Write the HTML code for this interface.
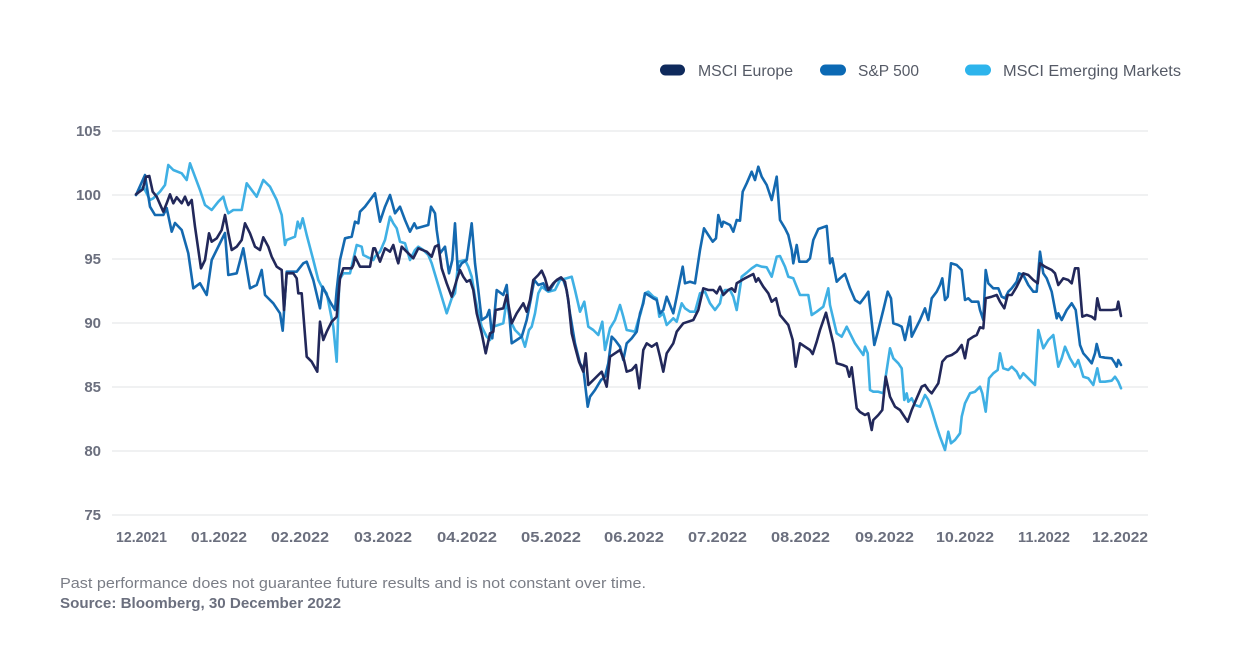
<!DOCTYPE html>
<html><head><meta charset="utf-8"><style>
html,body{margin:0;padding:0;background:#fff;}
svg{display:block;}
</style></head><body>
<svg width="1240" height="667" viewBox="0 0 1240 667" xmlns="http://www.w3.org/2000/svg" font-family="Liberation Sans, Arial, sans-serif">
<rect width="1240" height="667" fill="#fff"/>
<!-- legend -->
<rect x="660" y="64.5" width="25" height="11" rx="5.5" fill="#0f2a5c"/>
<text x="698" y="76" font-size="16" fill="#555a66" textLength="95" lengthAdjust="spacingAndGlyphs">MSCI Europe</text>
<rect x="820" y="64.5" width="26" height="11" rx="5.5" fill="#0b69b4"/>
<text x="858" y="76" font-size="16" fill="#555a66" textLength="61" lengthAdjust="spacingAndGlyphs">S&amp;P 500</text>
<rect x="965" y="64.5" width="26" height="11" rx="5.5" fill="#2db4ec"/>
<text x="1003" y="76" font-size="16" fill="#555a66" textLength="178" lengthAdjust="spacingAndGlyphs">MSCI Emerging Markets</text>
<!-- grid -->
<g stroke="#e2e3e6" stroke-width="1">
<line x1="112" y1="131" x2="1148" y2="131"/>
<line x1="112" y1="195" x2="1148" y2="195"/>
<line x1="112" y1="259" x2="1148" y2="259"/>
<line x1="112" y1="323" x2="1148" y2="323"/>
<line x1="112" y1="387" x2="1148" y2="387"/>
<line x1="112" y1="451" x2="1148" y2="451"/>
<line x1="112" y1="515" x2="1148" y2="515"/>
</g>
<!-- y labels -->
<g font-size="15" font-weight="bold" fill="#6b6f7e" text-anchor="end">
<text x="101" y="136">105</text>
<text x="101" y="200">100</text>
<text x="101" y="264">95</text>
<text x="101" y="328">90</text>
<text x="101" y="392">85</text>
<text x="101" y="456">80</text>
<text x="101" y="520">75</text>
</g>
<!-- x labels -->
<g font-size="15" font-weight="bold" fill="#6b6f7e" text-anchor="middle">
<text x="141.5" y="542" textLength="51" lengthAdjust="spacingAndGlyphs">12.2021</text>
<text x="219" y="542" textLength="56" lengthAdjust="spacingAndGlyphs">01.2022</text>
<text x="300" y="542" textLength="58" lengthAdjust="spacingAndGlyphs">02.2022</text>
<text x="383" y="542" textLength="58" lengthAdjust="spacingAndGlyphs">03.2022</text>
<text x="467" y="542" textLength="60" lengthAdjust="spacingAndGlyphs">04.2022</text>
<text x="551" y="542" textLength="60" lengthAdjust="spacingAndGlyphs">05.2022</text>
<text x="634" y="542" textLength="60" lengthAdjust="spacingAndGlyphs">06.2022</text>
<text x="717.5" y="542" textLength="59" lengthAdjust="spacingAndGlyphs">07.2022</text>
<text x="800.5" y="542" textLength="59" lengthAdjust="spacingAndGlyphs">08.2022</text>
<text x="884.5" y="542" textLength="59" lengthAdjust="spacingAndGlyphs">09.2022</text>
<text x="965" y="542" textLength="58" lengthAdjust="spacingAndGlyphs">10.2022</text>
<text x="1044" y="542" textLength="52" lengthAdjust="spacingAndGlyphs">11.2022</text>
<text x="1120" y="542" textLength="56" lengthAdjust="spacingAndGlyphs">12.2022</text>
</g>
<!-- footnotes -->
<text x="60" y="588" font-size="15" fill="#7a7d86" textLength="586" lengthAdjust="spacingAndGlyphs">Past performance does not guarantee future results and is not constant over time.</text>
<text x="60" y="608" font-size="15" font-weight="bold" fill="#6b6f7e" textLength="281" lengthAdjust="spacingAndGlyphs">Source: Bloomberg, 30 December 2022</text>
<!-- series -->
<g fill="none" stroke-width="2.6" stroke-linejoin="round" stroke-linecap="round">
<polyline stroke="#3fb0e4" points="136,195 143.3,186.7 150,200 153.3,198.3 160,191.7 165,185 168.3,165 173.3,170 181.7,173.3 186.7,180 190,163.3 195,176.7 200,190 205,205 211.7,210 218.3,201.7 223.3,196.7 226,206.7 228.3,213.3 233.3,210 241.7,210 246.7,183.3 256.7,196.7 263.3,180 270,186.7 276.7,200 281.7,215 285,245 286.7,240 295,236.7 297.7,221.7 300,228.3 302.7,218.3 306.7,235 313.3,260 318.3,280 321.7,286.7 326.7,293.3 333.3,326.7 336.7,361.7 339.3,280 343.3,273.3 350,273.3 356.7,245 361.7,246.7 363.3,255 373.3,260 375,256.7 380,251.7 385,240 390,216.7 393.3,223.3 396.7,228.3 400,241.7 405,243.3 410,260 415,250 418.3,246.7 423.3,250 428.3,255 431.7,263.3 436.7,280 441.7,296.7 446.7,313.3 451.7,298.3 455,293.3 458.3,261.7 465,260 468.3,266.7 471.7,276.7 475,296.7 478.3,313.3 481.7,326.7 486.7,336.7 490,340 493.3,326.7 498.3,325 503.3,323.3 506.7,300 510,320 515,330 521.7,336.7 525,346.7 529,330 531.7,326.7 535,313.3 538.3,293.3 541.7,286.7 548.3,291.7 555,290 560,280 566.7,278.3 571.7,276.7 575,290 580,311.7 584.3,301.7 588.3,326.7 593.3,330 598.3,335 602.3,321.7 605,350 610,328.3 615,320 620,305 623.3,316.7 626.7,330 635,331.7 638.3,320 640.7,313.3 645,293.3 648.3,291.7 653.3,296.7 656.7,298.3 659.3,316.7 663.3,313.3 666.7,325 673.3,318.3 676.7,321.7 681.7,303.3 685,308.3 690,311.7 695,311.7 700,293.3 705,291.7 710,303.3 715,310 720,303.3 721.7,295 725,290 730,290 733.3,296.7 736.7,310 741.7,276.7 746.7,272.7 751.7,268.3 756.7,265 761.7,266.7 766.7,267.3 771.7,276.7 776.7,256.7 780,256 785,266.7 788.3,276.7 793.3,278.3 800,295 808.3,295 811.7,315 816.7,311.7 823.3,306.7 828.3,288.3 830,305 836.7,333.3 841.7,336.7 846.7,326.7 850,333.3 855,343.3 863.3,355 865,346.7 867.7,353.3 870,390 873.3,391.7 878.3,391.7 883.3,393.3 885.7,376.7 890,348.3 893.3,358.3 898.3,363.3 901.7,368.3 904.3,400 906.7,393.3 908.3,401.7 911.7,398.3 915,405 920,406.7 925,395 928.3,400 931.7,410 936.7,426.7 940,436.7 945,450 948.3,431.7 951,443.3 955,440 960,433.3 961.7,416.7 965,403.3 970,393.3 975,391.7 980,386.7 982.3,393.3 985.7,411.7 989,378.3 993.3,373.3 997.7,370 1000,353.3 1003.3,368.3 1008.3,370 1011.7,366.7 1016.7,371.7 1020,378.3 1023.3,373.3 1028.3,378.3 1035,385 1038.3,330 1043.3,348.3 1048.3,340 1053.3,335 1058.3,366.7 1061.7,358.3 1065,346.7 1070,358.3 1075,366.7 1078.3,360 1083.3,376.7 1088.3,378.3 1093.3,385 1097.3,368.3 1100,381.7 1105,381.7 1111.7,380.7 1115,376.7 1118.3,381.7 1121,388.3"/>
<polyline stroke="#1469b0" points="136,195 145,175 150,206.7 155,215 163.3,215 166.7,208 171.7,231.7 175,223 181.7,230 188.3,253.3 193.3,288.3 200,283.3 206.7,295 211.7,260 225,233 228.3,275 236.7,273.3 243.3,248.3 250,288.3 256.7,285 261.7,270 265,295 273.3,303.3 280,313.3 282.7,330.7 286.7,271.7 296.7,271.7 303.3,263.3 306.7,261.7 313.3,280 320,308.3 322.7,286.7 330,301.7 335,310 336.7,290 340,260 345,238.3 351.7,236.7 355,221.7 358.3,223.3 360,211.7 365,206.7 370,200 375,193.3 380,221.7 385,206.7 390,195 395,213.3 400,206.7 405,220 410,231.7 414.3,223.3 416.7,228.3 428.3,225 431,206.7 435,213.3 436.7,230 440,253.3 445,246.7 449,273.3 452.3,260 455,223.3 457.7,270 461.7,263.3 466.7,260 471.7,223.3 475,263.3 478.3,290 481.7,320 486.7,316.7 489.3,310 492.3,338.3 496.7,290 503.3,295 506.7,285 510,323.3 511.7,343.3 516.7,340 521.7,336.7 526.7,320 530,303.3 534.3,280 538.3,285 543.3,283.3 546.7,290 550,290 555,281.7 560,278.3 563.3,280 566.7,290 570,313.3 575,343.3 580,363.3 583.3,368.3 587.7,406.7 590,396.7 595,390 601,380 605,376.7 608.3,363.3 611.7,336.7 615,340 620,346.7 623.3,360 626.7,343.3 631.7,338.3 636.7,331.7 640,313.3 643.3,303.3 645,293.3 648.3,295 653.3,298.3 656.7,300 660,313.3 663.3,310 666.7,296.7 670,305 673.3,313.3 676.7,296.7 680,280 682.7,266.7 685,283.3 690,281.7 695,283.3 700,250 704,228.3 708.3,235 712.7,241.7 716,238.3 718.3,215 721.7,226.7 723.3,221.7 730,225 733.3,231.7 736.7,220 740,220.7 742.7,191.7 746.7,183.3 751.7,171.7 755,180 758.3,166.7 761.7,176.7 766.7,185 771.7,200 776.7,176.7 780,220 785,228.3 788.3,235 791.7,250 793.3,263.3 796.7,245 799.3,261.7 806.7,261.7 810,258.3 813.3,240 818.3,229 826.7,226 830,263.3 832.3,258.3 836.7,281.7 840,278.3 845,274 850,288.3 855,300 860,303.3 865,296.7 868.3,291.7 870,306.7 874.3,345 878.3,330 883.3,310 887.7,291.7 891,298.3 893.3,323.3 898.3,325 901.7,326.7 905,340 910,316.7 911.7,336.7 915,330 920,320 925,308.3 928.3,320 931.7,298.3 936.7,291.7 940,285 942.3,278.3 945,300 947.7,296.7 951,263.3 956.7,265 961.7,270 965,300 968.3,298.3 971.7,301.7 978.3,301.7 980,310 983.3,320 985.7,270 988.3,283.3 993.3,288.3 998.3,288.3 1001.7,296.7 1005,298.3 1008.3,291.7 1011.7,288.3 1016.7,281.7 1019,273.3 1023.3,275 1028.3,285 1033.3,291.7 1036.7,291.7 1040,251.7 1043.3,273.3 1046.7,278.3 1051.7,291.7 1056.7,318.3 1058.3,313.3 1061.7,320 1066.7,310 1071.7,303.3 1075.7,310 1080,345 1083.3,353.3 1087.7,358.3 1091.7,363.3 1095,353.3 1096.7,344 1100,356.7 1105,357.7 1111.7,358.3 1115,363.3 1116.7,366.7 1118.3,360 1121,365"/>
<polyline stroke="#22285a" points="136,194.3 142.7,189.3 146,176.7 149.3,176 152.7,191.7 156.7,196.7 163.3,211.7 166.7,203.3 170,194.3 173.3,203.3 176.7,197.3 181.7,203.3 185,196.7 188.3,205 191.7,200 195,226.7 201,268.3 205,260 209,233.3 211.7,241.7 216.7,238.3 221.7,230 225,215 228.3,233.3 231.7,250 236.7,246.7 241.7,240 245,223.3 250,233.3 255,246.7 260,250 263.3,237.3 268.3,246.7 271.7,256.7 276.7,266.7 281.7,270 284,310 286.7,273.3 293.3,273.3 296.7,278.3 298.3,293.3 301.7,293.3 306.7,356.7 311.7,361.7 317.3,371.7 320,321.7 323.3,340 326.7,331.7 331.7,321.7 336.7,316.7 340,278.3 343.3,268.3 351.7,268.3 353.3,265 355,256.7 360,266.7 370,266.7 373.3,248.3 375,248.3 380,261.7 385,248.3 390,251.7 393.3,245 396.7,258.3 398.3,263.3 401.7,246.7 408.3,253.3 413.3,258.3 418.3,248.3 426.7,251.7 431.7,256.7 435,246.7 438.3,245 441.7,268.3 446.7,283.3 451.7,296.7 456.7,280 460,270 463.3,276.7 466.7,281.7 470,280 473.3,290 476.7,313.3 481.7,333.3 485.7,353.3 490,333.3 493.3,331.7 495.7,310 503.3,308.3 506.7,295 511.7,323.3 516.7,313.3 523.3,303.3 526.7,311.7 530,300 533.3,280 538.3,275 541.7,270.7 545,278.3 548.3,290 553.3,283.3 556.7,280 561,277.3 565,281.7 568.3,300 571.7,333.3 575,346.7 579,361.7 583.3,371.7 585.7,353.3 588.3,385 593.3,380 598.3,375 601.7,371.7 606.7,386.7 610,356.7 615,353.3 620,350 624,360 626.7,371.7 631.7,370 636,365 639.3,388.3 643.3,350 646.7,343.3 651.7,346.7 656.7,343.3 660,356.7 663.3,371.7 666.7,353.3 673.3,343.3 676.7,331.7 679.3,328.3 683.3,323.3 693.3,320 698.3,310 703.3,288.3 708.3,290 713.3,290 716.7,293.3 720,286.7 723.3,295 728.3,290 731.7,288.3 735,291.7 736.7,283.3 745,278.3 753.3,274 756,281.7 758.3,278.3 763.3,286.7 768.3,293.3 771.7,301.7 776,298.3 780,315 788.3,325 792.7,340 795.7,366.7 800,343.3 805,346.7 810,350 812.7,354 816.7,341.7 820,330 826,312.7 829.3,326.7 833.3,343.3 836.7,363.3 842.7,365 846.7,366.7 849.3,376.7 851.7,367.3 853.3,380 856.7,408.3 860,412 865,415 868.3,413.3 871.7,430 873.3,420 878.3,415 882.3,410 885.7,376.7 890,396.7 895,406.7 900,410 903.3,415 907.7,421.7 911.7,410 916.7,398.3 921.7,386.7 925,385 928.3,390 931.7,393.3 935,388.3 938.3,383.3 942.3,361.7 946.7,356.7 951.7,355 956.7,351.7 961.7,345 965,358.3 968.3,340 973.3,336.7 976.7,335 980,327.3 983.3,328.3 985.7,298.3 991.7,296.7 996.7,295 1000,301.7 1004.3,308.3 1007.7,295 1011.7,295 1016.7,286.7 1020,280 1023.3,273.3 1028.3,275 1033.3,280 1037.7,283.3 1040,263.3 1045,266.7 1051.7,270 1055,273.3 1058.3,285 1063.3,278.3 1068.3,280 1071.7,283.3 1075,268.3 1078.3,268.3 1082.3,316.7 1086.7,315 1091.7,316.7 1095,319.3 1097.3,298.3 1100,310 1105,310 1111.7,310 1116.7,309.3 1118.3,301.7 1121,316"/>
</g>
</svg>
</body></html>
